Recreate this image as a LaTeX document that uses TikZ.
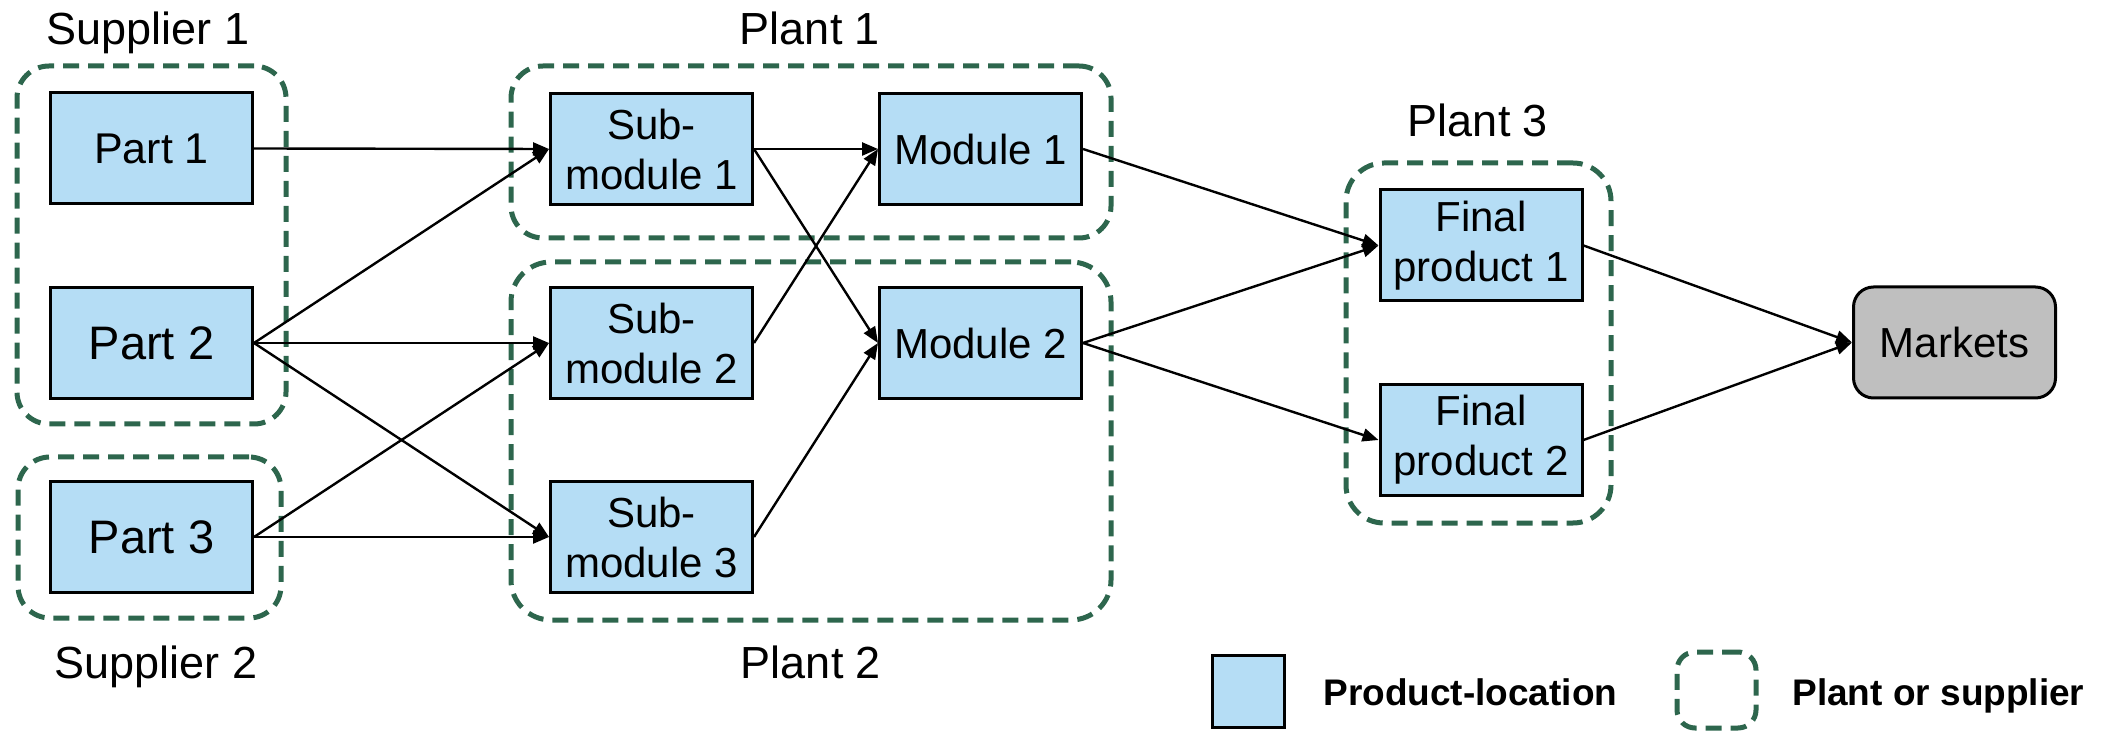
\documentclass[tikz,border=0pt]{standalone}
\usepackage{fontspec}
\setmainfont{Liberation Sans}
\usetikzlibrary{arrows.meta,fit}
\definecolor{pbox}{RGB}{181,221,245}
\definecolor{grpc}{RGB}{45,102,77}
\definecolor{mkc}{RGB}{191,191,191}
\begin{document}
\begin{tikzpicture}[x=0.5pt,y=-0.5pt,
  prod/.style={draw=black, line width=1.5pt, fill=pbox, minimum width=101pt, minimum height=55.5pt, inner sep=0pt, align=center, font=\fontsize{21}{25}\selectfont},
  grp/.style={draw=grpc, line width=2.5pt, dash pattern=on 8pt off 4.5pt, rounded corners=16pt, inner sep=0pt},
  lab/.style={font=\fontsize{22.5}{27}\selectfont, inner sep=0pt},
  leg/.style={font=\bfseries\fontsize{18.5}{22}\selectfont, inner sep=0pt},
  arr/.style={line width=1.2pt, -{Triangle[length=8pt,width=6.5pt]}}]
\useasboundingbox (0,0) rectangle (2102,731);
% groups
\node[grp, fit={(17,66)(286,424)}] (sup1) {};
\node[grp, fit={(18,457)(281,618)}] (sup2) {};
\node[grp, fit={(511,66)(1111,238)}] (pl1) {};
\node[grp, rounded corners=20pt, fit={(511,262)(1111,620)}] (pl2) {};
\node[grp, rounded corners=19pt, fit={(1346,163)(1611,523)}] (pl3) {};
% labels
\node[lab, anchor=base] (t1) at (148,45) {Supplier 1};
\node[lab, anchor=base] (t2) at (156,678) {Supplier 2};
\node[lab, anchor=base] (t3) at (810,45) {Plant 1};
\node[lab, anchor=base] (t4) at (811,678) {Plant 2};
\node[lab, anchor=base] (t5) at (1478,137) {Plant 3};
% product boxes
\node[prod, font=\fontsize{21.5}{25}\selectfont] (p1) at (151.5,148.5) {Part 1};
\node[prod, font=\fontsize{23.5}{25}\selectfont] (p2) at (151.5,343) {Part 2};
\node[prod, font=\fontsize{23.5}{25}\selectfont] (p3) at (151.5,537) {Part 3};
\node[prod] (s1) at (651.5,149) {Sub-\\module 1};
\node[prod] (s2) at (651.5,343) {Sub-\\module 2};
\node[prod] (s3) at (651.5,537) {Sub-\\module 3};
\node[prod] (m1) at (980.5,149) {Module 1};
\node[prod] (m2) at (980.5,343) {Module 2};
\node[prod] (f1) at (1481,245.5) {Final\\product 1};
\node[prod] (f2) at (1481,440) {Final\\product 2};
\node[prod, fill=mkc, rounded corners=10pt] (mk) at (1954.5,342.5) {Markets};
% arrows
\draw[arr] (p1.east) -- (s1.west);
\draw[arr] (p2.east) -- (s1.west);
\draw[arr] (p2.east) -- (s2.west);
\draw[arr] (p2.east) -- (s3.west);
\draw[arr] (p3.east) -- (s2.west);
\draw[arr] (p3.east) -- (s3.west);
\draw[arr] (s1.east) -- (m1.west);
\draw[arr] (s1.east) -- (m2.west);
\draw[arr] (s2.east) -- (m1.west);
\draw[arr] (s3.east) -- (m2.west);
\draw[arr] (m1.east) -- (f1.west);
\draw[arr] (m2.east) -- (f1.west);
\draw[arr] (m2.east) -- (f2.west);
\draw[arr] (f1.east) -- (mk.west);
\draw[arr] (f2.east) -- (mk.west);
% legend
\node[prod, minimum width=36pt, minimum height=36pt] (lg1) at (1248.5,691.5) {};
\node[leg, anchor=base west] (lt1) at (1323,705) {Product-location};
\node[grp, rounded corners=9pt, fit={(1677,652)(1756,728)}] (lg2) {};
\node[leg, anchor=base west] (lt2) at (1792,705) {Plant or supplier};
\end{tikzpicture}
\end{document}
